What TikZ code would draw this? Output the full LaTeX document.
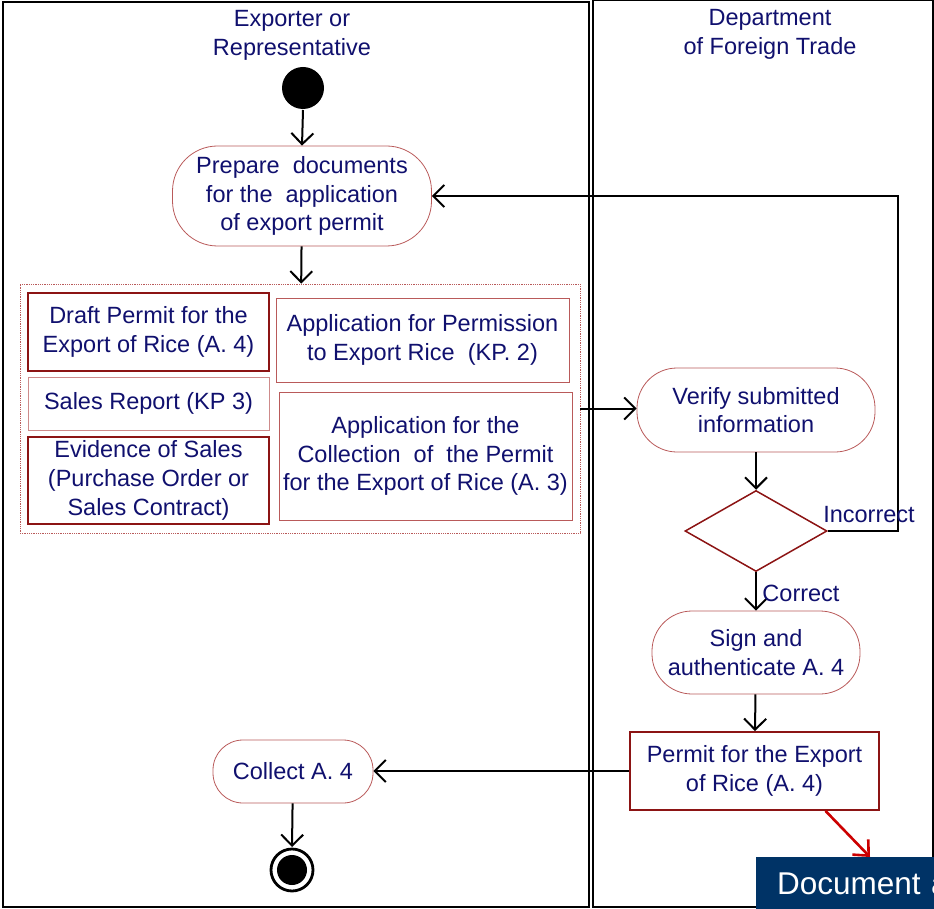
\documentclass[tikz,border=0pt]{standalone}
\usepackage{fontspec}
\setmainfont{Liberation Sans}
\usetikzlibrary{arrows.meta,shapes.geometric}
\definecolor{inktext}{RGB}{16,16,110}
\definecolor{darkrim}{RGB}{140,20,20}
\definecolor{lightrim}{RGB}{185,90,90}
\definecolor{docblue}{RGB}{0,51,102}
\begin{document}
\begin{tikzpicture}[x=1pt,y=-1pt,
    every node/.style={font=\fontsize{23.5}{28.8}\selectfont,text=inktext,align=center},
    lane/.style={draw=black,line width=2pt},
    activity/.style={draw=lightrim,line width=0.8pt,rounded corners=36pt,inner sep=0pt},
    object/.style={draw=lightrim,line width=0.8pt,inner sep=0pt},
    heavyobject/.style={draw=darkrim,line width=1.8pt,inner sep=0pt},
    flow/.style={draw=black,line width=2pt,-{Straight Barb[length=11pt,width=22pt,line width=2pt]}},
    redflow/.style={draw=red!80!black,line width=2.6pt,-{Straight Barb[length=12pt,width=22pt,line width=2.6pt]}}]
  \useasboundingbox (0,0) rectangle (934,909);
  \draw[lane] (3,2) rectangle (589,907);
  \draw[lane] (593,0) rectangle (933,907);
  \draw
    (292,35) node (exporter){Exporter or\\Representative}
    (770,34) node (dft){Department\\of Foreign Trade};
  \fill (303,88) circle (21pt) node (start){};
  \node[activity,minimum width=259pt,minimum height=100pt,rounded corners=45pt] (prep) at (302,196)
    {Prepare\ \ documents\\for the\ \ application\\of export permit};
  \node[draw=lightrim,densely dotted,line width=0.8pt,minimum width=560pt,minimum height=249pt,inner sep=0pt] (docs) at (300,408.5){};
  \node[heavyobject,minimum width=241pt,minimum height=78pt] (draft) at (148.5,332)
    {Draft Permit for the\\Export of Rice (A. 4)};
  \node[object,minimum width=293pt,minimum height=84pt] (kp2) at (422.5,340)
    {Application for Permission\\to Export Rice\ \ (KP. 2)};
  \node[object,draw=lightrim!70,minimum width=241pt,minimum height=53pt] (kp3) at (148.5,403.5)
    {Sales Report (KP 3)};
  \node[heavyobject,minimum width=241pt,minimum height=87pt] (evidence) at (148.5,480.5)
    {Evidence of Sales\\(Purchase Order or\\Sales Contract)};
  \node[object,minimum width=293pt,minimum height=128pt] (a3) at (425.5,456)
    {Application for the\\Collection\ \ of\ \ the Permit\\for the Export of Rice (A. 3)};
  \node[activity,minimum width=238pt,minimum height=84pt,rounded corners=40pt] (verify) at (756,410)
    {Verify submitted\\information};
  \node[diamond,draw=darkrim,line width=1.5pt,minimum width=142pt,minimum height=81pt,inner sep=0pt,aspect=1.75] (check) at (756,531){};
  \node[activity,minimum width=208pt,minimum height=83pt,rounded corners=40pt] (sign) at (756,652.5)
    {Sign and\\authenticate A. 4};
  \node[heavyobject,minimum width=249pt,minimum height=78pt] (permit) at (754.5,771)
    {Permit for the Export\\of Rice (A. 4)};
  \node[activity,minimum width=160pt,minimum height=63pt,rounded corners=30pt] (collect) at (293,771.5)
    {Collect A. 4};
  \draw[line width=2.8pt] (292,870) circle (21pt);
  \fill (292,870) circle (15pt) node (finish){};
  \node[fill=docblue,text=white,font=\fontsize{31.5}{36}\selectfont,anchor=north west,
    minimum width=260pt,minimum height=54pt,text width=250pt,align=left,inner sep=0pt] (doc) at (756,857)
    {\hspace*{16pt}Document a};
  \coordinate (back) at (898,531);
  \begin{scope}
    \draw[flow] (start) ++(0,22) -- (prep.north);
    \draw[flow] (prep) -- (docs);
    \draw[flow] (docs.east) -- (docs.east -| verify.west);
    \draw[flow] (verify) -- (check);
    \draw[flow] (check.east) -- (back) |- (prep.east);
    \draw[flow] (check) -- (sign);
    \draw[flow] (sign) -- (permit);
    \draw[flow] (permit.west) -- (permit.west -| collect.east);
    \draw[flow] (collect) -- (292,847);
    \draw[redflow] ([xshift=71pt]permit.south) -- ([xshift=114pt]doc.north west);
  \end{scope}
  \node (incorrect) at (869,515){Incorrect};
  \node (correct) at (801,593){Correct};
\end{tikzpicture}
\end{document}
